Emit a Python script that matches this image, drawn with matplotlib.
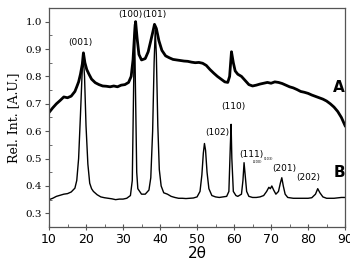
import matplotlib
matplotlib.use('Agg')
import matplotlib.pyplot as plt
from matplotlib.ticker import MultipleLocator

# curve A (upper, noisy)
a_x = [10, 11, 12, 13, 14, 15, 16, 17, 17.5, 18, 18.5, 19, 19.3, 19.7, 20.2,
       20.8, 21.5, 22.5, 23.5, 24.5, 25.5, 26.5, 27.5, 28.5, 29.5, 30.5, 31.5,
       32.2, 32.7, 33.1, 33.4, 33.8, 34.3, 35, 36, 36.8, 37.5, 38.1, 38.5,
       39, 39.7, 40.5, 41.5, 42.5, 43.5, 44.5, 45.5, 46.5, 47.5, 48.5, 49.5,
       50.5, 51.5, 52.5, 53.5, 54.5, 55.5, 56.5, 57.5, 58.3, 58.8, 59.3, 59.8,
       60.3, 61, 62, 63, 64, 65, 66, 67, 68, 69, 70, 71, 72, 73, 74, 75, 76,
       77, 78, 79, 80, 81, 82, 83, 84, 85, 86, 87, 88, 89, 90]
a_y = [0.668, 0.685, 0.700, 0.712, 0.725, 0.722, 0.728, 0.745, 0.762, 0.780,
       0.808, 0.845, 0.886, 0.850, 0.825, 0.808, 0.790, 0.777, 0.770, 0.765,
       0.764, 0.762, 0.765, 0.762, 0.768, 0.770, 0.778, 0.800, 0.860, 0.950,
       1.000, 0.940, 0.880, 0.860, 0.865, 0.890, 0.930, 0.965, 0.990, 0.975,
       0.930, 0.895, 0.875, 0.868, 0.862, 0.860, 0.858, 0.856, 0.855, 0.852,
       0.850, 0.851, 0.848, 0.840, 0.825, 0.812, 0.800, 0.790, 0.780, 0.778,
       0.800, 0.890, 0.850, 0.820, 0.808, 0.800, 0.785, 0.770, 0.765, 0.768,
       0.772, 0.775, 0.778, 0.775, 0.780, 0.778, 0.774, 0.768, 0.762, 0.758,
       0.752, 0.745, 0.742, 0.738, 0.732, 0.727, 0.722, 0.717, 0.710, 0.700,
       0.688, 0.672, 0.650, 0.620]

# curve B (lower, sharp peaks)
b_x = [10, 11, 12, 13, 14, 15, 16, 17, 17.5, 18, 18.5, 19, 19.3, 19.6, 20,
       20.5, 21, 21.5, 22, 23, 24, 25, 26, 27, 28, 29, 30, 31, 32, 32.5, 32.8,
       33.1, 33.4, 33.7, 34, 35, 36, 37, 37.5, 38, 38.4, 38.7, 39, 39.4, 39.8,
       40.3, 41, 42, 43, 44, 45, 46, 47, 48, 49, 50, 50.8, 51.3, 51.7, 52.0,
       52.3, 52.7, 53.2, 54, 55, 56, 57, 58, 58.6, 59.0, 59.2, 59.4, 59.8,
       60.5, 61, 62, 62.4, 62.7, 63.0, 63.4, 64, 65, 66, 67, 68, 68.8, 69.4,
       69.8, 70.2, 70.7, 71.3, 72, 72.5, 72.9, 73.3, 73.8, 74.5, 76, 78, 80,
       81, 82, 82.6, 83.2, 84, 85, 87, 89, 90]
b_y = [0.350, 0.355, 0.362, 0.366, 0.370, 0.372, 0.378, 0.392, 0.420, 0.500,
       0.660, 0.830, 0.860, 0.800, 0.620, 0.480, 0.410, 0.390, 0.380, 0.368,
       0.360, 0.357, 0.355, 0.353, 0.350, 0.352, 0.352, 0.355, 0.365, 0.420,
       0.700, 0.990, 0.720, 0.450, 0.390, 0.370, 0.370, 0.385, 0.430, 0.600,
       0.850, 0.970, 0.880, 0.620, 0.460, 0.400, 0.375, 0.370, 0.362, 0.358,
       0.355, 0.355, 0.354, 0.355, 0.356, 0.360, 0.380, 0.440, 0.520, 0.555,
       0.530, 0.450, 0.390, 0.365, 0.360, 0.358, 0.360, 0.362, 0.380, 0.550,
       0.625, 0.500, 0.380, 0.365, 0.362, 0.370, 0.420, 0.485, 0.440, 0.380,
       0.362, 0.358, 0.358, 0.360, 0.365, 0.380, 0.395, 0.390, 0.400, 0.385,
       0.370, 0.380, 0.410, 0.430, 0.400, 0.370, 0.358, 0.355, 0.355, 0.355,
       0.357, 0.370, 0.390, 0.375, 0.360, 0.355, 0.355, 0.358, 0.358]

# peak labels: (text, x, y, fontsize)
peak_labels = [('(001)', 18.5, 0.925, 6.5), ('(100)', 32.0, 1.025, 6.5),
               ('(101)', 38.4, 1.025, 6.5), ('(110)', 59.7, 0.69, 6.5),
               ('(102)', 55.4, 0.595, 6.5), ('(111)', 64.6, 0.515, 6.5),
               ('(200)', 66.3, 0.487, 2.5), ('(103)', 69.3, 0.50, 2.5),
               ('(201)', 73.6, 0.465, 6.5), ('(202)', 80.1, 0.43, 6.5)]

fig = plt.figure(figsize=(3.5, 2.64), dpi=100)
ax = fig.add_axes([0.14, 0.14, 0.846, 0.83])

ax.plot(a_x, a_y, color='black', lw=2.0)
ax.plot(b_x, b_y, color='black', lw=1.0)

for txt, x, y, fs in peak_labels:
    ax.text(x, y, txt, ha='center', va='center', fontsize=fs,
            family='DejaVu Sans')

ax.text(88.3, 0.76, 'A', ha='center', va='center', fontsize=11,
        fontweight='bold', family='DejaVu Sans')
ax.text(88.5, 0.45, 'B', ha='center', va='center', fontsize=11,
        fontweight='bold', family='DejaVu Sans')

ax.set_xlim(10, 90)
ax.set_ylim(0.25, 1.05)
ax.xaxis.set_major_locator(MultipleLocator(10))
ax.xaxis.set_minor_locator(MultipleLocator(5))
ax.yaxis.set_minor_locator(MultipleLocator(0.05))
ax.set_yticks([0.3, 0.4, 0.5, 0.6, 0.7, 0.8, 0.9, 1.0])

for s in ax.spines.values():
    s.set_color('#555555')
    s.set_linewidth(0.9)

ax.tick_params(axis='x', which='major', direction='inout', length=5,
               labelsize=9, color='#555555', pad=2)
ax.tick_params(axis='x', which='minor', direction='in', length=2,
               color='#555555')
ax.tick_params(axis='y', which='major', direction='out', length=3,
               labelsize=7.5, color='#555555', pad=2)
ax.tick_params(axis='y', which='minor', direction='in', length=2,
               color='#555555')
for lab in ax.get_yticklabels():
    lab.set_family('DejaVu Serif')

ax.set_xlabel('2θ', fontsize=11, labelpad=0)
ax.set_ylabel('Rel. Int. [A.U.]', fontsize=9, family='DejaVu Serif',
              labelpad=4)

fig.savefig('out.png', dpi=100)
